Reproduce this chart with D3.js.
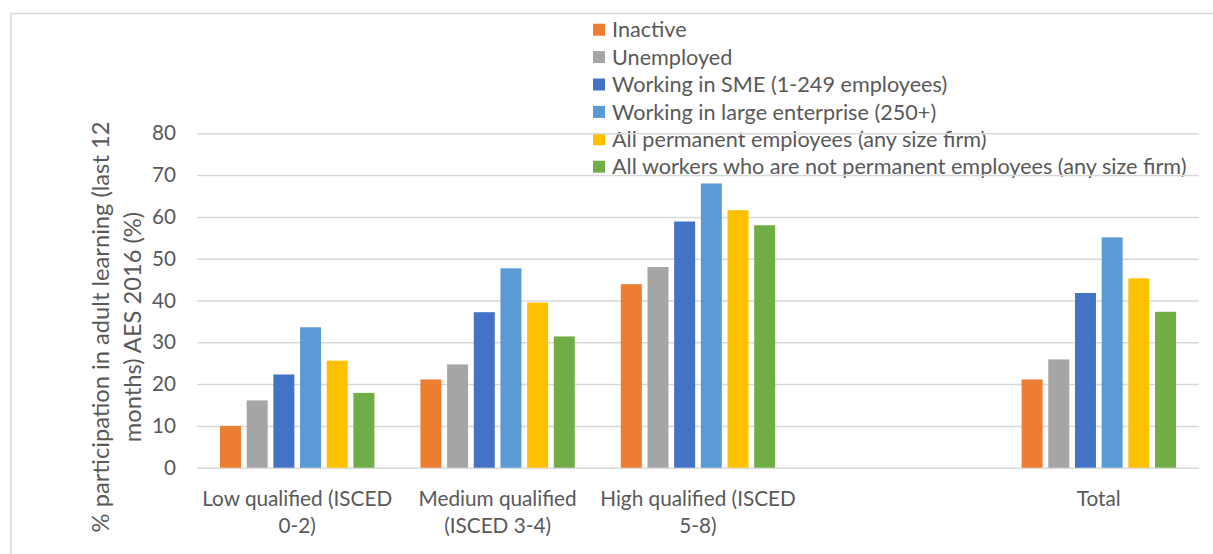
<!DOCTYPE html>
<html><head><meta charset="utf-8">
<script src="https://cdn.jsdelivr.net/npm/d3@7"></script>
<style>
body{margin:0;background:#fff;}
svg text{font-family:Lato,"Open Sans",sans-serif;fill:#595959;}
</style></head>
<body>
<svg id="chart" width="1213" height="554"></svg>
<script>
const categories = [["Low qualified (ISCED","0-2)"],["Medium qualified","(ISCED 3-4)"],["High qualified (ISCED","5-8)"],[""],["Total"]];
const seriesNames = ["Inactive","Unemployed","Working in SME (1-249 employees)","Working in large enterprise (250+)","All permanent employees (any size firm)","All workers who are not permanent employees (any size firm)"];
const colors = ["#ED7D31","#A5A5A5","#4472C4","#5B9BD5","#FFC000","#70AD47"];
const inactive   = [10.0, 21.1, 43.9, null, 21.1];
const unemployed = [16.1, 24.7, 48.0, null, 25.9];
const sme        = [22.3, 37.2, 58.9, null, 41.8];
const large      = [33.6, 47.7, 68.0, null, 55.1];
const permanent  = [25.6, 39.5, 61.6, null, 45.3];
const nonPerm    = [17.9, 31.4, 58.0, null, 37.3];
const yTicks = [0,10,20,30,40,50,60,70,80];
const yTitle = ["% participation in adult learning (last 12","months) AES 2016 (%)"];

const series = [inactive, unemployed, sme, large, permanent, nonPerm];
const svg = d3.select("#chart");

// scale a text group's font so that a reference text reaches a target width
function fitSize(textSel, target){
  const node = textSel.node();
  const w = node.getComputedTextLength();
  const fs = parseFloat(textSel.attr("font-size"));
  return fs*target/w;
}

// chart border
svg.append("rect").attr("x",11).attr("y",13.5).attr("width",1300).attr("height",700)
  .attr("fill","none").attr("stroke","#d9d9d9").attr("stroke-width",1.5);

const x0 = d3.scaleBand().domain(d3.range(categories.length)).range([197,1199]).padding(0);
const x1 = d3.scaleBand().domain(d3.range(series.length)).range([0,x0.bandwidth()]).paddingInner(0.213).paddingOuter(0.863);
const y = d3.scaleLinear().domain([0,80]).range([467.7,133.3]);

// legend
const lg = svg.append("g");
const legTexts = [];
seriesNames.forEach((n,i)=>{
  const cy = 29.7 + i*27.4;
  lg.append("rect").attr("x",593).attr("y",cy-6).attr("width",12).attr("height",12).attr("fill",colors[i]);
  legTexts.push(lg.append("text").attr("x",612).attr("y",cy).attr("dy","0.36em").attr("font-size",20).text(n));
});
const legFs = fitSize(legTexts[5], 575);
legTexts.forEach(t=>t.attr("font-size",legFs));

// gridlines + y tick labels
const yAxis = d3.axisLeft(y).tickValues(yTicks).tickSize(-(1199-197)).tickPadding(21);
const ga = svg.append("g").attr("transform","translate(197,0)").call(yAxis);
ga.select(".domain").remove();
ga.selectAll(".tick line").attr("stroke","#d9d9d9").attr("stroke-width",1.5);
ga.selectAll(".tick text").attr("font-size",20).attr("fill","#595959").attr("font-family","Lato,'Open Sans',sans-serif");
const tickFs = fitSize(ga.selectAll(".tick text").filter(d=>d===80), 24);
ga.selectAll(".tick text").attr("font-size",tickFs);

// bars
series.forEach((vals,si)=>{
  svg.append("g").selectAll("rect").data(vals.map((v,ci)=>({v,ci})).filter(d=>d.v!=null))
    .enter().append("rect")
    .attr("x",d=>x0(d.ci)+x1(si))
    .attr("width",x1.bandwidth())
    .attr("y",d=>y(d.v))
    .attr("height",d=>y(0)-y(d.v))
    .attr("fill",colors[si]);
});

// x labels
const xg = svg.append("g");
categories.forEach((lines,ci)=>{
  lines.forEach((t,li)=>{
    xg.append("text").attr("x",x0(ci)+x0.bandwidth()/2).attr("y",499+li*27)
      .attr("dy","0.36em").attr("text-anchor","middle").attr("font-size",20).text(t);
  });
});
const xFs = fitSize(xg.select("text"), 190);
xg.selectAll("text").attr("font-size",xFs);

// y title
const tg = svg.append("g");
yTitle.forEach((t,i)=>{
  tg.append("text").attr("transform",`translate(${100+i*32},327) rotate(-90)`)
    .attr("dy","0.36em").attr("text-anchor","middle").attr("font-size",20).text(t);
});
const tFs = fitSize(tg.select("text"), 411);
tg.selectAll("text").attr("font-size",tFs);
</script>
</body></html>
